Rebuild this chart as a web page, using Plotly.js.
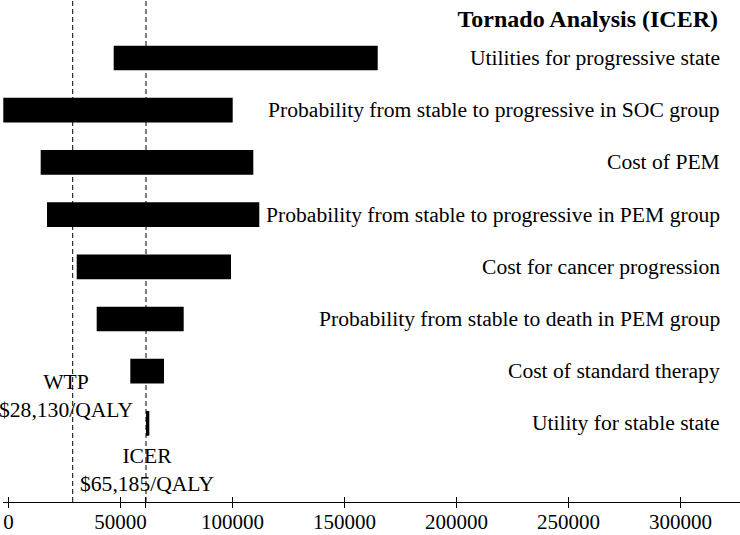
<!DOCTYPE html>
<html>
<head>
<meta charset="utf-8">
<script src="https://cdn.plot.ly/plotly-3.0.1.min.js"></script>
<style>html,body{margin:0;padding:0;background:#fff;}#chart{width:740px;height:535px;}</style>
</head>
<body>
<div id="chart"></div>
<script>
// Data
const categories = [
  "Utilities for progressive state",
  "Probability from stable to progressive in SOC group",
  "Cost of PEM",
  "Probability from stable to progressive in PEM group",
  "Cost for cancer progression",
  "Probability from stable to death in PEM group",
  "Cost of standard therapy",
  "Utility for stable state"
];
const lowValues  = [46960, -2320, 14370, 17190, 30450, 39370, 54380, 61380];
const highValues = [164820, 100090, 109290, 111960, 99330, 78210, 69420, 62860];
const wtpValue = 28660;
const icerValue = 61380;
const wtpLabel = "WTP<br>$28,130/QALY";
const icerLabel = "ICER<br>$65,185/QALY";
const tickValues = [0, 50000, 100000, 150000, 200000, 250000, 300000];
const tickLabels = ["0", "50000", "100000", "150000", "200000", "250000", "300000"];

const FONT = "Liberation Serif, Times New Roman, serif";
const allTicks = tickValues.concat([icerValue]);
const allTickText = tickLabels.concat([""]);

const trace = {
  type: "bar",
  orientation: "h",
  y: categories,
  base: lowValues,
  x: highValues.map((h, i) => h - lowValues[i]),
  width: 0.473,
  marker: {color: "#000", line: {width: 0}},
  hoverinfo: "skip",
  showlegend: false
};
const trace2 = {
  type: "scatter", mode: "none", x: [wtpValue], y: [categories[0]],
  xaxis: "x2", yaxis: "y", showlegend: false, hoverinfo: "skip"
};

const xRange = [-2455, 326560];
const LABEL_SIZE = 21.6;
const annotations = categories.map(c => ({
  text: c, xref: "paper", x: 0.9756, xanchor: "right",
  yref: "y", y: c, yanchor: "middle", showarrow: false,
  font: {family: FONT, size: LABEL_SIZE, color: "#000"}
}));
annotations.push({
  text: wtpLabel, xref: "x", x: wtpValue, xshift: -7, xanchor: "center",
  yref: "y", y: 6.475, yanchor: "middle", showarrow: false, align: "center",
  font: {family: FONT, size: LABEL_SIZE, color: "#000"}
});
annotations.push({
  text: icerLabel, xref: "x", x: icerValue, xshift: 1.5, xanchor: "center",
  yref: "y", y: 7.902, yanchor: "middle", showarrow: false, align: "center",
  font: {family: FONT, size: LABEL_SIZE, color: "#000"}
});

const layout = {
  width: 740, height: 535,
  margin: {l: 3, r: 0, t: 0, b: 33, pad: 0},
  paper_bgcolor: "#fff", plot_bgcolor: "#fff",
  title: {
    text: "<b>Tornado Analysis (ICER)</b>",
    xref: "container", yref: "container",
    x: 0.9703, xanchor: "right", y: 0.966, yanchor: "middle",
    font: {family: FONT, size: 24, color: "#000"}
  },
  xaxis: {
    range: xRange, showgrid: false, zeroline: false,
    showline: true, linecolor: "#000", linewidth: 1.3,
    ticks: "inside", ticklen: 5, tickwidth: 1, tickcolor: "#000",
    tickmode: "array", tickvals: allTicks, ticktext: allTickText,
    tickfont: {family: FONT, size: 21, color: "#000"},
    fixedrange: true
  },
  xaxis2: {
    overlaying: "x", range: xRange, showgrid: false, zeroline: false,
    showline: false, ticks: "outside", ticklen: 5, tickwidth: 1, tickcolor: "#000",
    tickmode: "array", tickvals: allTicks, showticklabels: false, side: "bottom",
    anchor: "y"
  },
  yaxis: {
    type: "category", categoryorder: "array", categoryarray: categories,
    range: [8.506, -1.111], showgrid: false, zeroline: false,
    showline: false, showticklabels: false, ticks: ""
  },
  shapes: [wtpValue, icerValue].map(v => ({
    type: "line", xref: "x", x0: v, x1: v, yref: "paper", y0: 0, y1: 1,
    line: {color: "#000", width: 1, dash: "5px,3px"}, layer: "above"
  })),
  annotations: annotations,
  showlegend: false
};

Plotly.newPlot("chart", [trace, trace2], layout, {displayModeBar: false, staticPlot: true});
</script>
</body>
</html>
